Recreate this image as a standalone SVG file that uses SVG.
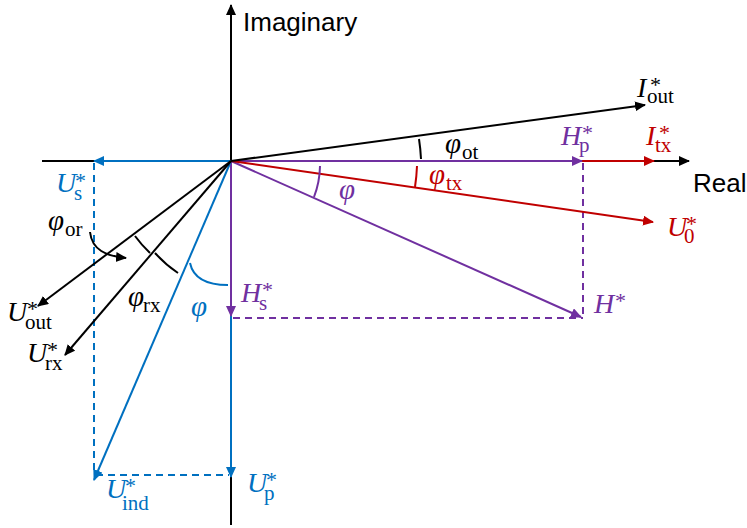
<svg xmlns="http://www.w3.org/2000/svg" width="747" height="528" viewBox="0 0 747 528">
<style>
.ln{fill:none;stroke-width:2}
.k{stroke:#000}
.b{stroke:#0070C0}
.p{stroke:#7030A0}
.r{stroke:#C00000}
.d{stroke-dasharray:7 5}
.ax{font-family:"Liberation Sans",Arial,sans-serif;font-size:26px;fill:#000}
.v{font-family:"Liberation Serif","Times New Roman",serif;font-style:italic;font-size:28px}
.f{font-size:29px}
.s{font-style:normal;font-size:21px}
.a{font-style:normal;font-size:22px}
.tk{fill:#000}.tb{fill:#0070C0}.tp{fill:#7030A0}.tr{fill:#C00000}
</style>
<defs>
<marker id="mk" markerUnits="userSpaceOnUse" markerWidth="12" markerHeight="11" refX="10" refY="5" orient="auto"><path d="M0,0L11,5L0,10z" fill="#000"/></marker>
<marker id="mb" markerUnits="userSpaceOnUse" markerWidth="12" markerHeight="11" refX="10" refY="5" orient="auto"><path d="M0,0L11,5L0,10z" fill="#0070C0"/></marker>
<marker id="mp" markerUnits="userSpaceOnUse" markerWidth="12" markerHeight="11" refX="10" refY="5" orient="auto"><path d="M0,0L11,5L0,10z" fill="#7030A0"/></marker>
<marker id="mr" markerUnits="userSpaceOnUse" markerWidth="12" markerHeight="11" refX="10" refY="5" orient="auto"><path d="M0,0L11,5L0,10z" fill="#C00000"/></marker>
</defs>
<rect width="747" height="528" fill="#fff"/>
<g id="connectors">
<line class="ln k" x1="42" y1="161" x2="689" y2="161" marker-end="url(#mk)"/>
<line class="ln k" x1="231" y1="525" x2="231" y2="5" marker-end="url(#mk)"/>
<line class="ln r" x1="231" y1="161" x2="654" y2="161" marker-end="url(#mr)"/>
<line class="ln p" x1="231" y1="161" x2="582" y2="161" marker-end="url(#mp)"/>
<line class="ln b" x1="231" y1="161" x2="94" y2="161" marker-end="url(#mb)"/>
<line class="ln b" x1="231" y1="161" x2="231" y2="477" marker-end="url(#mb)"/>
<line class="ln p" x1="231" y1="161" x2="231" y2="316" marker-end="url(#mp)"/>
<line class="ln b d" x1="94" y1="163" x2="94" y2="475"/>
<line class="ln b d" x1="96" y1="475" x2="229" y2="475"/>
<line class="ln b" x1="231" y1="161" x2="94" y2="480" marker-end="url(#mb)"/>
<line class="ln p d" x1="583" y1="163" x2="583" y2="318"/>
<line class="ln p d" x1="233" y1="318" x2="583" y2="318"/>
<line class="ln p" x1="231" y1="161" x2="581" y2="317" marker-end="url(#mp)"/>
<line class="ln r" x1="231" y1="161" x2="653" y2="222" marker-end="url(#mr)"/>
<line class="ln k" x1="231" y1="161" x2="645" y2="105" marker-end="url(#mk)"/>
<line class="ln k" x1="231" y1="161" x2="38" y2="306" marker-end="url(#mk)"/>
<line class="ln k" x1="231" y1="161" x2="65" y2="355" marker-end="url(#mk)"/>
<path class="ln k" d="M419,139A190,190 0 0 1 421,159"/>
<path class="ln r" d="M417,166A187,187 0 0 1 415,187"/>
<path class="ln p" d="M320,166A90,90 0 0 1 314,197"/>
<path class="ln k" d="M135,236A122,122 0 0 0 150,253"/>
<path class="ln k" d="M155,253A122,122 0 0 0 178,273"/>
<path class="ln b" d="M190,263C193,277 205,285 228,285"/>
<path class="ln k" d="M90,232C92,250 106,256 126,258" marker-end="url(#mk)"/>
</g>
<g id="axis-imaginary"><text class="ax" x="243" y="31">Imaginary</text></g>
<g id="axis-real"><text class="ax" x="693" y="192">Real</text></g>
<g id="U_s"><text class="v tb" x="56" y="192">U<tspan class="a" x="75" y="188">*</tspan><tspan class="s" x="74" y="200">s</tspan></text></g>
<g id="phi_or"><text class="v f tk" x="48" y="230">φ<tspan class="s" x="65" y="236">or</tspan></text></g>
<g id="U_out"><text class="v tk" x="7" y="321">U<tspan class="a" x="27" y="316">*</tspan><tspan class="s" x="25" y="329">out</tspan></text></g>
<g id="U_rx"><text class="v tk" x="27" y="362">U<tspan class="a" x="47" y="357">*</tspan><tspan class="s" x="45" y="370">rx</tspan></text></g>
<g id="phi_rx"><text class="v f tk" x="128" y="306">φ<tspan class="s" x="143" y="312">rx</tspan></text></g>
<g id="phi_blue"><text class="v f tb" x="191" y="316">φ</text></g>
<g id="H_s"><text class="v tp" x="241" y="302">H<tspan class="a" x="262" y="297">*</tspan><tspan class="s" x="259" y="310">s</tspan></text></g>
<g id="U_ind"><text class="v tb" x="106" y="498">U<tspan class="a" x="125" y="493">*</tspan><tspan class="s" x="122" y="510">ind</tspan></text></g>
<g id="U_p"><text class="v tb" x="247" y="492">U<tspan class="a" x="266" y="487">*</tspan><tspan class="s" x="264" y="500">p</tspan></text></g>
<g id="H_p"><text class="v tp" x="561" y="145">H<tspan class="a" x="582" y="140">*</tspan><tspan class="s" x="579" y="152">p</tspan></text></g>
<g id="I_tx"><text class="v tr" x="646" y="145">I<tspan class="a" x="659" y="140">*</tspan><tspan class="s" x="655" y="152">tx</tspan></text></g>
<g id="I_out"><text class="v tk" x="637" y="97">I<tspan class="a" x="650" y="92">*</tspan><tspan class="s" x="647" y="103">out</tspan></text></g>
<g id="U_0"><text class="v tr" x="667" y="236">U<tspan class="a" x="686" y="231">*</tspan><tspan class="s" x="684" y="243">0</tspan></text></g>
<g id="H_star"><text class="v tp" x="594" y="313">H<tspan class="a" x="615" y="308">*</tspan></text></g>
<g id="phi_ot"><text class="v f tk" x="445" y="153">φ<tspan class="s" x="462" y="159">ot</tspan></text></g>
<g id="phi_tx"><text class="v f tr" x="429" y="184">φ<tspan class="s" x="446" y="190">tx</tspan></text></g>
<g id="phi_purple"><text class="v f tp" x="339" y="199">φ</text></g>
</svg>
